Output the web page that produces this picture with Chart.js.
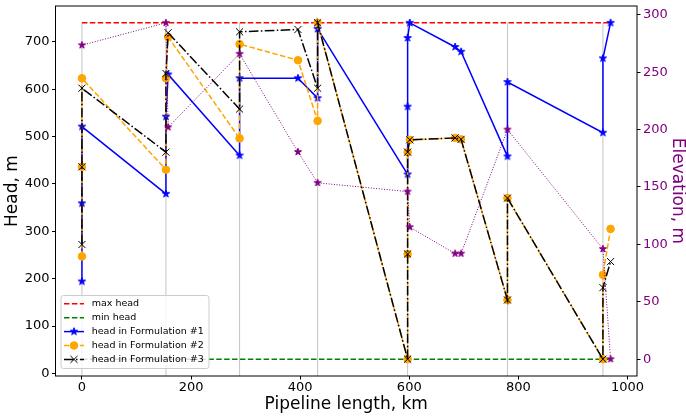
<!DOCTYPE html>
<html>
<head>
<meta charset="utf-8">
<script src="https://cdn.jsdelivr.net/npm/chart.js@4.4.1/dist/chart.umd.min.js"></script>
<style>
  html, body { margin: 0; padding: 0; background: #fff; }
  #wrap { width: 686px; height: 416px; }
</style>
</head>
<body>
<div id="wrap"><canvas id="chart" width="686" height="416"></canvas></div>
<script>
"use strict";

/* tick labels */
const headTicks = [0, 100, 200, 300, 400, 500, 600, 700];
const elevTicks = [0, 50, 100, 150, 200, 250, 300];
const lengthTicks = [0, 200, 400, 600, 800, 1000];

/* stations (grey verticals) and head limits */
const stationsKm = [0, 154, 289, 432, 597, 780, 955];
const limitKm = [0, 969];
const maxHead = [740, 740];
const minHead = [30, 30];

/* head profiles along the pipeline, same km points for the three formulations */
const profileKm = [0, 0, 0, 154, 154, 158, 289, 289, 396, 432, 432, 597, 597, 597, 601, 684, 695, 780, 780, 955, 955, 969];
const f1Head = [194, 359, 521, 379, 542, 631, 460, 623, 623, 581, 727, 420, 563, 708, 740, 689, 679, 458, 615, 508, 665, 740];
const f2Head = [247, 436, 623, 430, 623, 710, 496, 695, 661, 533, 740, 30, 252, 467, 493, 497, 494, 155, 370, 30, 208, 305];
const f3Head = [272, 436, 602, 467, 633, 719, 558, 721, 726, 602, 740, 30, 252, 467, 493, 497, 494, 155, 370, 30, 181, 236];

/* elevation profile (right axis) */
const elevKm = [0, 154, 158, 289, 396, 432, 597, 601, 684, 695, 780, 955, 969];
const elevM = [273.5, 293, 202, 266, 180.5, 153.6, 146, 115, 92, 92, 200, 96, 0];

const FONT = '"DejaVu Sans", "Liberation Sans", sans-serif';
const PURPLE = '#800080';

/* matplotlib-like 5% margins */
const padRange = (vals) => {
    const lo = Math.min(...vals), hi = Math.max(...vals), m = (hi - lo) * 0.05;
    return [lo - m, hi + m];
};
const xRange = padRange(profileKm.concat(elevKm, limitKm));
const headRange = padRange(f1Head.concat(f2Head, f3Head, maxHead, minHead));
const elevRange = padRange(elevM);

const pts = (xs, ys) => xs.map((x, i) => ({ x: x, y: ys[i] }));

/* filled five point star, like the '*' marker */
const starMark = (color, r) => {
    const s = Math.ceil(r * 2 + 2);
    const c = document.createElement('canvas');
    c.width = c.height = s;
    const g = c.getContext('2d');
    g.beginPath();
    for (let i = 0; i < 10; i++) {
        const a = -Math.PI / 2 + i * Math.PI / 5;
        const rr = i % 2 ? r * 0.382 : r;
        g.lineTo(s / 2 + rr * Math.cos(a), s / 2 + rr * Math.sin(a));
    }
    g.closePath();
    g.fillStyle = color;
    g.fill();
    g.strokeStyle = color;
    g.lineWidth = 1;
    g.stroke();
    return c;
};

const stationLines = [];
stationsKm.forEach(k => {
    stationLines.push({ x: k, y: headRange[0] }, { x: k, y: maxHead[0] }, { x: k, y: null });
});

const datasets = [
    {
        label: 'stations', data: stationLines, yAxisID: 'y',
        borderColor: '#c4c4c4', borderWidth: 1, pointRadius: 0, spanGaps: false
    },
    {
        label: 'max head', legend: true, data: pts(limitKm, maxHead), yAxisID: 'y',
        borderColor: '#ff0000', borderWidth: 1.5, borderDash: [5.5, 2.4], pointRadius: 0
    },
    {
        label: 'min head', legend: true, data: pts(limitKm, minHead), yAxisID: 'y',
        borderColor: '#008000', borderWidth: 1.5, borderDash: [5.5, 2.4], pointRadius: 0
    },
    {
        label: 'head in Formulation #1', legend: true, data: pts(profileKm, f1Head), yAxisID: 'y',
        borderColor: '#0000ff', borderWidth: 1.5,
        pointStyle: starMark('#0000ff', 3.9), pointRadius: 3.9,
        pointBackgroundColor: '#0000ff', pointBorderColor: '#0000ff', pointBorderWidth: 1
    },
    {
        label: 'head in Formulation #2', legend: true, data: pts(profileKm, f2Head), yAxisID: 'y',
        borderColor: '#ffa500', borderWidth: 1.5, borderDash: [5.5, 2.4],
        pointStyle: 'circle', pointRadius: 3.8,
        pointBackgroundColor: '#ffa500', pointBorderColor: '#ffa500', pointBorderWidth: 1
    },
    {
        label: 'head in Formulation #3', legend: true, data: pts(profileKm, f3Head), yAxisID: 'y',
        borderColor: '#000000', borderWidth: 1.5, borderDash: [9.6, 2.4, 1.5, 2.4],
        pointStyle: 'crossRot', pointRadius: 5,
        pointBackgroundColor: '#000000', pointBorderColor: '#000000', pointBorderWidth: 1
    },
    {
        label: 'elevation', data: pts(elevKm, elevM), yAxisID: 'y1',
        borderColor: PURPLE, borderWidth: 1, borderDash: [1, 1.65],
        pointStyle: starMark(PURPLE, 3.7), pointRadius: 3.7,
        pointBackgroundColor: PURPLE, pointBorderColor: PURPLE, pointBorderWidth: 1
    }
];
/* later datasets on top, as in matplotlib */
datasets.forEach((d, i) => {
    d.order = datasets.length - i;
    d.fill = false;
    d.tension = 0;
});

/* axes frame */
const framePlugin = {
    id: 'frame',
    afterDatasetsDraw(chart) {
        const { ctx, chartArea: a } = chart;
        ctx.save();
        ctx.strokeStyle = '#000';
        ctx.lineWidth = 1;
        ctx.strokeRect(a.left, a.top, a.right - a.left, a.bottom - a.top);
        ctx.restore();
    }
};

/* legend box in the lower left corner of the axes */
const legendPlugin = {
    id: 'boxLegend',
    afterDraw(chart) {
        const { ctx, chartArea: a } = chart;
        const items = chart.data.datasets.filter(d => d.legend);
        const w = 148, h = 73;
        const x = a.left + 5.5, y = a.bottom - 7.5 - h;
        ctx.save();
        ctx.beginPath();
        ctx.roundRect(x, y, w, h, 2.5);
        ctx.fillStyle = 'rgba(255,255,255,0.8)';
        ctx.fill();
        ctx.strokeStyle = '#cccccc';
        ctx.lineWidth = 1;
        ctx.stroke();
        ctx.font = '9.5px ' + FONT;
        ctx.textBaseline = 'middle';
        items.forEach((d, i) => {
            const cy = y + 8.3 + i * 13.9;
            ctx.beginPath();
            ctx.setLineDash(d.borderDash || []);
            ctx.strokeStyle = d.borderColor;
            ctx.lineWidth = d.borderWidth;
            ctx.moveTo(x + 3, cy);
            ctx.lineTo(x + 23, cy);
            ctx.stroke();
            ctx.setLineDash([]);
            if (d.pointRadius > 0) {
                ctx.fillStyle = d.pointBackgroundColor;
                ctx.strokeStyle = d.pointBorderColor;
                ctx.lineWidth = d.pointBorderWidth;
                Chart.helpers.drawPoint(ctx, {
                    pointStyle: d.pointStyle, radius: d.pointRadius,
                    borderWidth: d.pointBorderWidth, rotation: 0
                }, x + 13, cy);
            }
            ctx.fillStyle = '#000';
            ctx.fillText(d.label, x + 30.7, cy);
        });
        ctx.restore();
    }
};

const fixedTicks = (list) => (scale) => {
    scale.ticks = list.map(v => ({ value: v }));
};

/* fixed box size, and no extra room for half labels at the ends */
const fixedSize = (key, size) => (s) => {
    s[key] = size;
    s.paddingTop = 0;
    s.paddingBottom = 0;
    s.paddingLeft = 0;
    s.paddingRight = 0;
};

const plainLabel = (v) => String(v);

const tickGrid = {
    display: true, drawOnChartArea: false, drawTicks: true,
    tickLength: 3.5, color: '#000', lineWidth: 1
};

new Chart(document.getElementById('chart'), {
    type: 'line',
    data: { datasets: datasets },
    options: {
        responsive: false,
        animation: false,
        devicePixelRatio: 1,
        layout: { padding: { top: 4, left: 0, right: 0, bottom: 0 } },
        plugins: {
            legend: { display: false },
            tooltip: { enabled: false }
        },
        scales: {
            x: {
                type: 'linear', position: 'bottom',
                min: xRange[0], max: xRange[1],
                afterBuildTicks: fixedTicks(lengthTicks),
                afterFit: fixedSize('height', 40),
                grid: tickGrid,
                border: { display: false },
                ticks: { color: '#000', padding: 0, font: { family: FONT, size: 13 }, maxRotation: 0, callback: plainLabel },
                title: {
                    display: true, text: 'Pipeline length, km', color: '#000',
                    font: { family: FONT, size: 17 }, padding: { top: 0, bottom: 1 }
                }
            },
            y: {
                type: 'linear', position: 'left',
                min: headRange[0], max: headRange[1],
                afterBuildTicks: fixedTicks(headTicks),
                afterFit: fixedSize('width', 55.5),
                grid: tickGrid,
                border: { display: false },
                ticks: { color: '#000', padding: 2.5, font: { family: FONT, size: 13 }, callback: plainLabel },
                title: {
                    display: true, text: 'Head, m', color: '#000',
                    font: { family: FONT, size: 17 }, padding: { top: 2, bottom: 0 }
                }
            },
            y1: {
                type: 'linear', position: 'right',
                min: elevRange[0], max: elevRange[1],
                afterBuildTicks: fixedTicks(elevTicks),
                afterFit: fixedSize('width', 49),
                grid: tickGrid,
                border: { display: false },
                ticks: { color: PURPLE, padding: 2.5, font: { family: FONT, size: 13 }, callback: plainLabel },
                title: {
                    display: true, text: 'Elevation, m', color: PURPLE,
                    font: { family: FONT, size: 17, lineHeight: 1 }, padding: { top: 0, bottom: 0 }
                }
            }
        }
    },
    plugins: [framePlugin, legendPlugin]
});
</script>
</body>
</html>
